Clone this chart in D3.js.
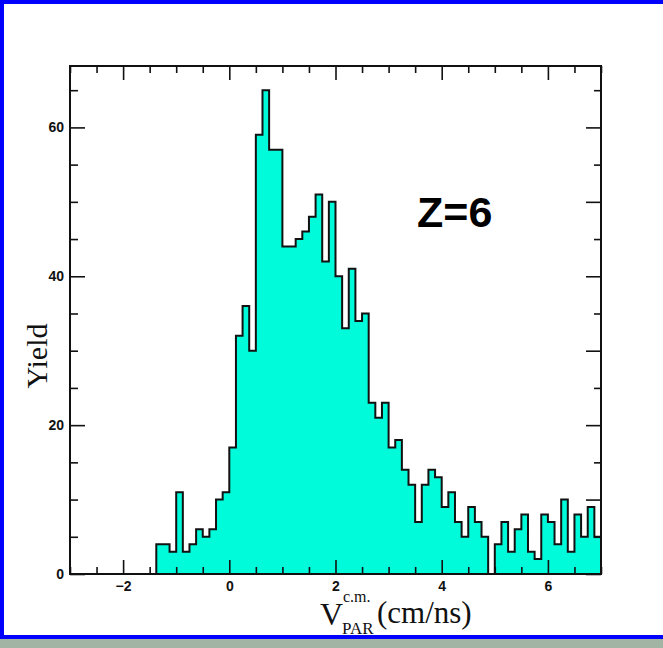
<!DOCTYPE html>
<html>
<head>
<meta charset="utf-8">
<script src="https://cdn.jsdelivr.net/npm/d3@7"></script>
<style>
  html, body { margin: 0; padding: 0; background: #ffffff; }
  svg { display: block; }
</style>
</head>
<body>
<svg id="chart" width="663" height="648"></svg>
<script>
// ---- data ----
const binStart = -3;
const binWidth = 0.125;
const counts = [
  0, 0, 0, 0, 0, 0, 0, 0, 0, 0, 0, 0, 0,
  4, 4, 3, 11, 3, 4, 6, 5, 6, 10, 11,
  17, 32, 36, 30, 59, 65, 57, 57, 44, 44, 45, 46, 48, 51,
  42, 50, 40, 33, 41, 34, 35, 23, 21, 23,
  17, 18, 14, 12, 7, 12, 14, 13,
  9, 11, 7, 5, 9, 7, 5, 0,
  4, 7, 3, 6, 8, 3, 2, 8,
  7, 4, 10, 3, 8, 5, 9, 5
];
const xDomain = [-3, 7];
const yDomain = [0, 68.25];
const xMajorTicks = [-2, 0, 2, 4, 6];
const yMajorTicks = [0, 20, 40, 60];
const annotation = "Z=6";
const yTitle = "Yield";

(function () {
// ---- layout ----
const W = 663, H = 648;
const pL = 70, pR = 601, pT = 66, pB = 574;

const svg = d3.select("#chart");

// page frame
svg.append("rect").attr("x", 0).attr("y", 0).attr("width", W).attr("height", H).attr("fill", "#ffffff");
svg.append("rect").attr("x", 0).attr("y", 639).attr("width", W).attr("height", 9).attr("fill", "#a2b5a5");
svg.append("rect").attr("x", 0).attr("y", 635).attr("width", W).attr("height", 4).attr("fill", "#0000ff");
svg.append("rect").attr("x", 0).attr("y", 0).attr("width", W).attr("height", 4).attr("fill", "#0000ff");
svg.append("rect").attr("x", 0).attr("y", 0).attr("width", 4).attr("height", 639).attr("fill", "#0000ff");

const x = d3.scaleLinear().domain(xDomain).range([pL, pR]);
const y = d3.scaleLinear().domain(yDomain).range([pB, pT]);

// histogram
const pts = counts.map((c, i) => ({ e: binStart + i * binWidth, c }));
pts.push({ e: binStart + counts.length * binWidth, c: counts[counts.length - 1] });

const area = d3.area()
  .x(d => x(d.e)).y0(y(0)).y1(d => y(d.c))
  .curve(d3.curveStepAfter);
svg.append("path").datum(pts).attr("d", area).attr("fill", "#00fbdb");

const outlinePts = [{ e: xDomain[0], c: 0 }].concat(pts, [{ e: xDomain[1], c: 0 }]);
const line = d3.line().x(d => x(d.e)).y(d => y(d.c)).curve(d3.curveStepAfter);
svg.append("path").datum(outlinePts).attr("d", line)
  .attr("fill", "none").attr("stroke", "#111").attr("stroke-width", 2)
  .attr("stroke-linejoin", "miter");

// axes
const tickFont = "bold 14px 'Liberation Sans', Arial, Helvetica, sans-serif";
const xMinor = d3.range(-3, 7.001, 0.5).filter(v => !xMajorTicks.includes(v));
const yMinorL = d3.range(0, 68, 5).filter(v => !yMajorTicks.includes(v));
const yMajorR = d3.range(0, 68, 10);
const yMinorR = d3.range(0, 68, 5).filter(v => !yMajorR.includes(v));

function styleAxis(g) {
  g.select(".domain").remove();
  g.selectAll(".tick line").attr("stroke", "#111").attr("stroke-width", 1.6);
  g.selectAll("text").style("font", tickFont).attr("fill", "#111");
}

// bottom
svg.append("g").attr("transform", `translate(0,${pB})`)
  .call(d3.axisBottom(x).tickValues(xMajorTicks).tickSize(-14).tickPadding(7).tickFormat(d3.format("d")))
  .call(styleAxis);
svg.append("g").attr("transform", `translate(0,${pB})`)
  .call(d3.axisBottom(x).tickValues(xMinor).tickSize(-7).tickFormat(""))
  .call(styleAxis);
// top
svg.append("g").attr("transform", `translate(0,${pT})`)
  .call(d3.axisTop(x).tickValues(xMajorTicks).tickSize(-14).tickFormat(""))
  .call(styleAxis);
svg.append("g").attr("transform", `translate(0,${pT})`)
  .call(d3.axisTop(x).tickValues(xMinor).tickSize(-7).tickFormat(""))
  .call(styleAxis);
// left
svg.append("g").attr("transform", `translate(${pL},0)`)
  .call(d3.axisLeft(y).tickValues(yMajorTicks).tickSize(-15).tickPadding(6).tickFormat(d3.format("d")))
  .call(styleAxis);
svg.append("g").attr("transform", `translate(${pL},0)`)
  .call(d3.axisLeft(y).tickValues(yMinorL).tickSize(-8).tickFormat(""))
  .call(styleAxis);
// right
svg.append("g").attr("transform", `translate(${pR},0)`)
  .call(d3.axisRight(y).tickValues(yMajorR).tickSize(-15).tickFormat(""))
  .call(styleAxis);
svg.append("g").attr("transform", `translate(${pR},0)`)
  .call(d3.axisRight(y).tickValues(yMinorR).tickSize(-7).tickFormat(""))
  .call(styleAxis);

// frame
svg.append("rect").attr("x", pL).attr("y", pT)
  .attr("width", pR - pL).attr("height", pB - pT)
  .attr("fill", "none").attr("stroke", "#111").attr("stroke-width", 2);

// annotation
svg.append("text").attr("x", 417).attr("y", 227)
  .style("font", "bold 43px 'Liberation Sans', Arial, sans-serif")
  .attr("fill", "#000").text(annotation);

// y title
svg.append("text")
  .attr("transform", "translate(47,356) rotate(-90)")
  .attr("text-anchor", "middle")
  .style("font", "30px 'Liberation Serif', 'Times New Roman', serif")
  .attr("fill", "#111").text(yTitle);

// x title: V^{c.m.}_{PAR} (cm/ns)
const serif = "'Liberation Serif', 'Times New Roman', serif";
const xt = svg.append("g").attr("fill", "#111");
xt.append("text").attr("x", 320).attr("y", 625).style("font", `32px ${serif}`).text("V");
xt.append("text").attr("x", 343).attr("y", 602).style("font", `16px ${serif}`).text("c.m.");
xt.append("text").attr("x", 342).attr("y", 634).style("font", `17px ${serif}`).text("PAR");
xt.append("text").attr("x", 377).attr("y", 623).style("font", `31px ${serif}`).text("(cm/ns)");
})();
</script>
</body>
</html>
